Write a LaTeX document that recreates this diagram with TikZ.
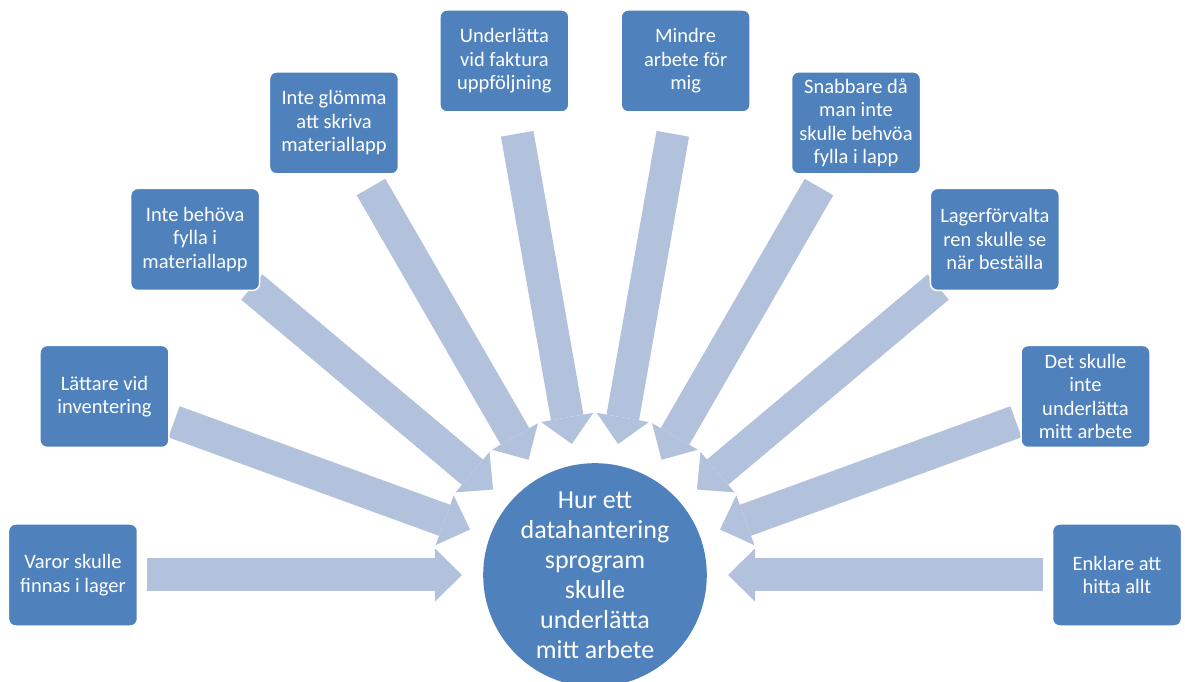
\documentclass[tikz,border=0pt]{standalone}
\usepackage{fontspec}
\setmainfont{Carlito}
\usetikzlibrary{arrows.meta,backgrounds}
\definecolor{boxblue}{HTML}{4F81BD}
\definecolor{arrowblue}{HTML}{B3C2DC}
\tikzset{
  idea/.style={draw=white, line width=1.5pt, fill=boxblue, rounded corners=7pt,
    minimum width=129pt, minimum height=102pt, inner sep=2pt,
    text=white, align=center, font=\fontsize{20.5}{23.5}\selectfont},
  hub/.style={circle, fill=boxblue, minimum size=218pt, inner sep=0pt,
    text=white, align=center, font=\fontsize{26}{30}\selectfont},
  feed/.style={arrowblue, line width=33pt, shorten <=74pt, shorten >=133pt,
    -{Triangle[width=53pt,length=27pt,line width=0pt]}}
}
\begin{document}
\begin{tikzpicture}[x=1pt,y=1pt]
  \useasboundingbox (-595,-107) rectangle (590,575);
  % central circle
  \node[hub] (hub) at (0,0) {Hur ett\\datahantering\\sprogram\\skulle\\underlätta\\mitt arbete};
  % surrounding ideas on a half circle, 20 degrees apart
  \node[idea] (b1)  at (180:522) {Varor skulle\\finnas i lager};
  \node[idea] (b2)  at (160:522) {Lättare vid\\inventering};
  \node[idea] (b3)  at (140:522) {Inte behöva\\fylla i\\materiallapp};
  \node[idea] (b4)  at (120:522) {Inte glömma\\att skriva\\materiallapp};
  \node[idea] (b5)  at (100:522) {Underlätta\\vid faktura\\uppföljning};
  \node[idea] (b6)  at (80:522)  {Mindre\\arbete för\\mig};
  \node[idea] (b7)  at (60:522)  {Snabbare då\\man inte\\skulle behvöa\\fylla i lapp};
  \node[idea] (b8)  at (40:522)  {Lagerförvalta\\ren skulle se\\när beställa};
  \node[idea] (b9)  at (20:522)  {Det skulle\\inte\\underlätta\\mitt arbete};
  \node[idea] (b10) at (0:522)   {Enklare att\\hitta allt};
  % converging block arrows, behind the boxes
  \begin{pgfonlayer}{background}
    \foreach \i in {1,...,10}
      \draw[feed] (b\i.center) -- (hub.center);
  \end{pgfonlayer}
\end{tikzpicture}
\end{document}
